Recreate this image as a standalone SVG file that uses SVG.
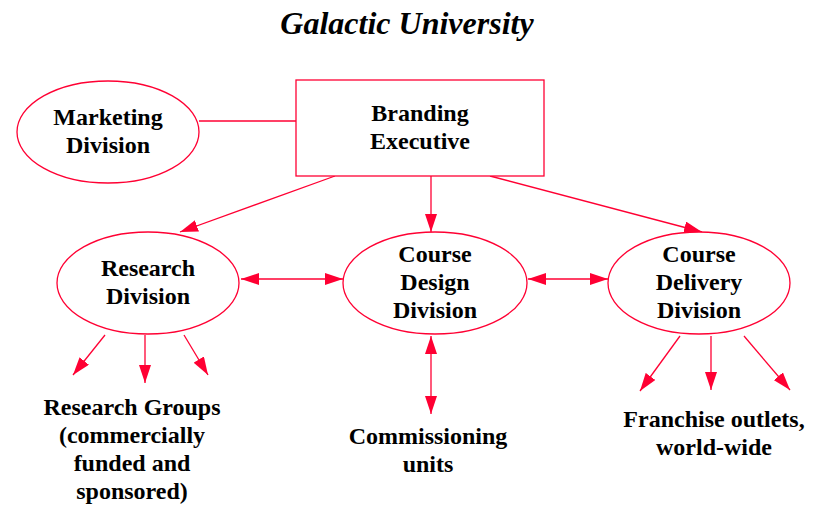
<svg xmlns="http://www.w3.org/2000/svg" width="824" height="512" viewBox="0 0 824 512">
<defs>
<marker id="ah" viewBox="0 0 18 12" refX="18" refY="6" markerWidth="18" markerHeight="12" markerUnits="userSpaceOnUse" orient="auto-start-reverse">
<path d="M0,0 L18,6 L0,12 Z" fill="#ff0033"/>
</marker>
</defs>
<style>
.n{fill:#fff;stroke:#ff0033;stroke-width:1.3}
.c line{stroke:#ff0033;stroke-width:1.3}
text{font-family:"Liberation Serif","Times New Roman",serif;font-weight:bold;font-size:24px;fill:#000;text-anchor:middle}
.t{font-style:italic;font-size:32px}
</style>
<rect width="824" height="512" fill="#fff"/>
<text class="t" x="407" y="34">Galactic University</text>
<g class="c">
<line x1="199" y1="121" x2="296" y2="121"/>
<line x1="335" y1="176" x2="180" y2="232" marker-end="url(#ah)"/>
<line x1="431" y1="176" x2="431" y2="232" marker-end="url(#ah)"/>
<line x1="490" y1="176" x2="702" y2="232" marker-end="url(#ah)"/>
<line x1="241" y1="279" x2="343" y2="279" marker-start="url(#ah)" marker-end="url(#ah)"/>
<line x1="528" y1="279" x2="608" y2="279" marker-start="url(#ah)" marker-end="url(#ah)"/>
<line x1="431" y1="336" x2="431" y2="414" marker-start="url(#ah)" marker-end="url(#ah)"/>
<line x1="105" y1="335" x2="73" y2="375" marker-end="url(#ah)"/>
<line x1="145" y1="335" x2="145" y2="383" marker-end="url(#ah)"/>
<line x1="184" y1="335" x2="208" y2="375" marker-end="url(#ah)"/>
<line x1="680" y1="336" x2="640" y2="391" marker-end="url(#ah)"/>
<line x1="711" y1="336" x2="711" y2="390" marker-end="url(#ah)"/>
<line x1="744" y1="336" x2="790" y2="390" marker-end="url(#ah)"/>
</g>
<g id="marketing">
<ellipse class="n" cx="108" cy="132" rx="91" ry="51"/>
<text x="108" y="125">Marketing</text>
<text x="108" y="153">Division</text>
</g>
<g id="branding">
<rect class="n" x="296" y="80" width="248" height="96"/>
<text x="420" y="121">Branding</text>
<text x="420" y="149">Executive</text>
</g>
<g id="research">
<ellipse class="n" cx="148" cy="283" rx="91" ry="51"/>
<text x="148" y="276">Research</text>
<text x="148" y="304">Division</text>
</g>
<g id="design">
<ellipse class="n" cx="435" cy="283" rx="92" ry="51"/>
<text x="435" y="262">Course</text>
<text x="435" y="290">Design</text>
<text x="435" y="318">Division</text>
</g>
<g id="delivery">
<ellipse class="n" cx="699" cy="283" rx="91" ry="51"/>
<text x="699" y="262">Course</text>
<text x="699" y="290">Delivery</text>
<text x="699" y="318">Division</text>
</g>
<g id="groups">
<text x="132" y="415">Research Groups</text>
<text x="132" y="443">(commercially</text>
<text x="132" y="471">funded and</text>
<text x="132" y="499">sponsored)</text>
</g>
<g id="commissioning">
<text x="428" y="444">Commissioning</text>
<text x="428" y="472">units</text>
</g>
<g id="franchise">
<text x="714" y="427">Franchise outlets,</text>
<text x="714" y="455">world-wide</text>
</g>
</svg>
